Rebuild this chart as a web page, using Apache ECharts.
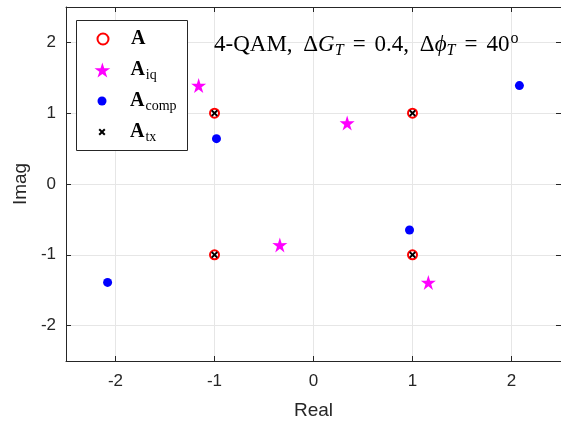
<!DOCTYPE html>
<html><head><meta charset="utf-8">
<script src="https://cdn.jsdelivr.net/npm/echarts@6/dist/echarts.min.js"></script>
<style>html,body{margin:0;padding:0;background:#fff}#c{width:561px;height:428px}</style>
</head><body><div id="c"></div>
<script>
const seriesNames = ['A', 'A_iq', 'A_comp', 'A_tx'];
const dataA = [[1, 1], [-1, 1], [-1, -1], [1, -1]];
const dataIq = [[-1.16, 1.39], [0.34, 0.86], [-0.34, -0.86], [1.16, -1.39]];
const dataComp = [[2.08, 1.39], [-0.98, 0.64], [-2.08, -1.39], [0.97, -0.65]];
const dataTx = [[1, 1], [-1, 1], [-1, -1], [1, -1]];
const xTicks = [-2, -1, 0, 1, 2];
const yTicks = [-2, -1, 0, 1, 2];

const STAR = 'path://M0,-50 L11.17,-15.37 L47.55,-15.45 L18.07,5.87 L29.39,40.45 L0,19 L-29.39,40.45 L-18.07,5.87 L-47.55,-15.45 L-11.17,-15.37 Z';
const CROSS = 'path://M0,2 L2,0 L5,3 L8,0 L10,2 L7,5 L10,8 L8,10 L5,7 L2,10 L0,8 L3,5 Z';
const serif = 'Liberation Serif';
const sans = 'Liberation Sans';
const AX = '#262626';
const GRID = '#e6e6e6';

const legendLabels = {
  'A': '{b|A}',
  'A_iq': '{b|A}{s|iq}',
  'A_comp': '{b|A}{s|comp}',
  'A_tx': '{b|A}{s|tx}'
};
const legendRich = {
  b: {fontFamily: serif, fontWeight: 'bold', fontSize: 20, color: '#000'},
  s: {fontFamily: serif, fontSize: 14, color: '#000', padding: [10, 0, 0, 1]}
};
const rowY = [41, 72, 103, 134];
const iconH = [11, 15, 9, 7];
const legends = seriesNames.map((n, i) => ({
  data: [n],
  left: 102 - iconH[i] / 2,
  top: rowY[i] - 12,
  padding: 0,
  z: 6,
  itemWidth: 46,
  itemHeight: iconH[i],
  formatter: nm => legendLabels[nm],
  textStyle: {rich: legendRich},
  selectedMode: false
}));

function fmt(v) { return xTicks.indexOf(v) >= 0 ? String(v) : ''; }

const chart = echarts.init(document.getElementById('c'), null, {renderer: 'canvas'});
chart.setOption({
  animation: false,
  backgroundColor: '#fff',
  title: {
    text: '4-QAM, {d|Δ}{i|G}{sub|T}{eq|=}0.4, {d|Δ}{i|ϕ}{sub|T}{eq|=}40{sup|o}',
    left: 214, top: 30, padding: 0,
    textStyle: {
      fontFamily: serif, fontSize: 23, fontWeight: 'normal', color: '#000',
      rich: {
        d: {fontFamily: serif, fontSize: 23, color: '#000', padding: [0, 0, 0, 5]},
        i: {fontFamily: serif, fontStyle: 'italic', fontSize: 23, color: '#000'},
        eq: {fontFamily: serif, fontSize: 23, color: '#000', padding: [0, 9, 0, 9]},
        sub: {fontFamily: serif, fontStyle: 'italic', fontSize: 16, color: '#000', padding: [13, 0, 0, 0]},
        sup: {fontFamily: serif, fontSize: 16, color: '#000', padding: [0, 0, 11, 1]}
      }
    }
  },
  legend: legends,
  graphic: [{
    type: 'rect', left: 76, top: 20, z: 3,
    shape: {width: 111, height: 130},
    style: {fill: '#fff', stroke: AX, lineWidth: 1}
  }],
  grid: {left: 66, top: 7, width: 497, height: 354, containLabel: false},
  xAxis: [{
    type: 'value', min: -2.5, max: 2.5, position: 'bottom',
    name: 'Real', nameLocation: 'middle', nameGap: 40,
    nameTextStyle: {fontFamily: sans, fontSize: 19, color: AX},
    axisLine: {show: true, onZero: false, lineStyle: {color: AX, width: 1}},
    axisTick: {show: true, inside: true, length: 5, lineStyle: {color: AX}},
    axisLabel: {show: true, formatter: fmt, showMinLabel: false, showMaxLabel: false,
      fontFamily: sans, fontSize: 17, color: AX, margin: 12},
    splitLine: {show: true, lineStyle: {color: GRID, width: 1}}
  }, {
    type: 'value', min: -2.5, max: 2.5, position: 'top',
    axisLine: {show: true, onZero: false, lineStyle: {color: AX, width: 1}},
    axisTick: {show: true, inside: true, length: 5, lineStyle: {color: AX}},
    axisLabel: {show: false}, splitLine: {show: false}
  }],
  yAxis: [{
    type: 'value', min: -2.5, max: 2.5, position: 'left',
    name: 'Imag', nameLocation: 'middle', nameGap: 32, nameRotate: 90,
    nameTextStyle: {fontFamily: sans, fontSize: 19, color: AX},
    axisLine: {show: true, onZero: false, lineStyle: {color: AX, width: 1}},
    axisTick: {show: true, inside: true, length: 5, lineStyle: {color: AX}},
    axisLabel: {show: true, formatter: v => yTicks.indexOf(v) >= 0 ? String(v) : '',
      showMinLabel: false, showMaxLabel: false,
      fontFamily: sans, fontSize: 17, color: AX, margin: 10},
    splitLine: {show: true, lineStyle: {color: GRID, width: 1}}
  }, {
    type: 'value', min: -2.5, max: 2.5, position: 'right',
    axisLine: {show: true, onZero: false, lineStyle: {color: AX, width: 1}},
    axisTick: {show: true, inside: true, length: 5, lineStyle: {color: AX}},
    axisLabel: {show: false}, splitLine: {show: false}
  }],
  series: [
    {name: 'A', type: 'scatter', data: dataA, symbol: 'emptyCircle', symbolSize: 9,
      itemStyle: {color: '#ff0000', borderColor: '#ff0000', borderWidth: 2, opacity: 1}, z: 2},
    {name: 'A_iq', type: 'scatter', data: dataIq, symbol: STAR, symbolSize: 15,
      itemStyle: {color: '#ff00ff', opacity: 1}, z: 2},
    {name: 'A_comp', type: 'scatter', data: dataComp, symbol: 'circle', symbolSize: 9,
      itemStyle: {color: '#0000ff', opacity: 1}, z: 2},
    {name: 'A_tx', type: 'scatter', data: dataTx, symbol: CROSS, symbolSize: 7,
      itemStyle: {color: '#000000', opacity: 1}, z: 3}
  ]
});
</script></body></html>
